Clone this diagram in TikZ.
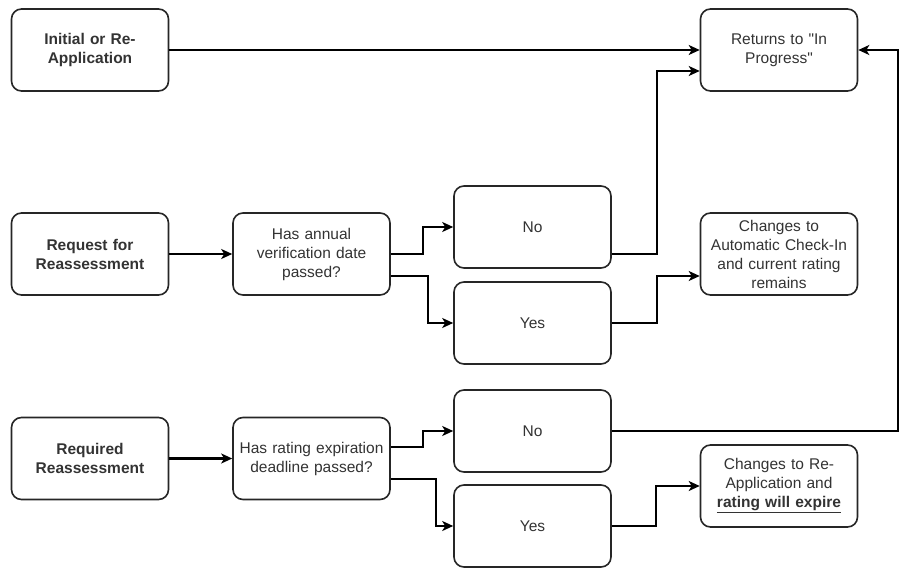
\documentclass[tikz,border=0pt]{standalone}
\usepackage{fontspec}
\setmainfont{Liberation Sans}
\usetikzlibrary{arrows.meta}
\tikzset{
  box/.style={draw=black!85, line width=1.6pt, rounded corners=10pt, fill=white,
    minimum width=157pt, minimum height=82pt, text width=150pt, align=center,
    inner sep=0pt, font=\fontsize{15.5}{19}\selectfont, text=black!80},
  bbox/.style={box, font=\fontsize{15.5}{19}\selectfont\bfseries},
  arr/.style={line width=2.1pt, -{Stealth[length=11pt,width=10pt,inset=3pt]}}
}
\begin{document}
\begin{tikzpicture}[x=1pt,y=-1pt]
\useasboundingbox (0,0) rectangle (901,567);
\node[bbox] (A) at (90,50) {Initial or Re-\\Application};
\node[box] (R) at (779,50) {Returns to \textquotedbl In\\Progress\textquotedbl};
\node[bbox] (B) at (90,254) {Request for\\Reassessment};
\node[box] (Q1) at (311.5,254) {Has annual\\verification date\\passed?};
\node[box] (N1) at (532.5,227) {No};
\node[box] (Y1) at (532.5,323) {Yes};
\node[box] (Auto) at (779,254) {Changes to\\Automatic Check-In\\and current rating\\remains};
\node[bbox] (C) at (90,458.5) {Required\\Reassessment};
\node[box] (Q2) at (311.5,458.5) {Has rating expiration\\deadline passed?};
\node[box] (N2) at (532.5,431) {No};
\node[box] (Y2) at (532.5,526) {Yes};
\node[box] (Exp) at (779,486) {Changes to Re-\\Application and\\\underline{\textbf{rating will expire}}};

\draw[arr] (A) -- (R);
\draw[arr] ([yshift=-27pt]N1.east) -- ++(45,0) |- ([yshift=-21pt]R.west);
\draw[arr] (B) -- (Q1);
\draw[arr] (Q1.east) -- ++(32,0) |- (N1.west);
\draw[arr] ([yshift=-22pt]Q1.east) -- ++(37,0) |- (Y1.west);
\draw[arr] (Y1.east) -- ++(45,0) |- ([yshift=-22pt]Auto.west);
\draw[arr] (C) -- (Q2);
\draw[arr] ([yshift=11.5pt]Q2.east) -- ++(32,0) |- (N2.west);
\draw[arr] ([yshift=-20.5pt]Q2.east) -- ++(45,0) |- (Y2.west);
\draw[arr] (Y2.east) -- ++(44,0) |- (Exp.west);
\draw[arr] (N2.east) -- ++(286,0) |- (R.east);
\end{tikzpicture}
\end{document}
